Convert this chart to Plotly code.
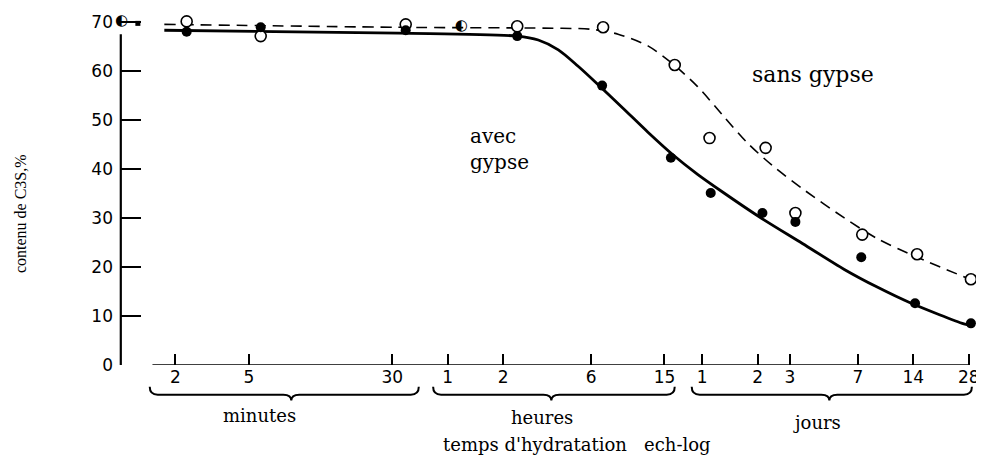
import math
import plotly.graph_objects as go

# ---------------- data (time in minutes, C3S content in %) ----------------
# measured points, "avec gypse" (filled circles)
avec_t = [2.3, 5.8, 35.5, 143, 413, 975, 1604, 3060, 4620, 10520, 20600, 41400]
avec_v = [68.0, 68.9, 68.3, 67.1, 57.0, 42.3, 35.1, 31.0, 29.2, 22.0, 12.6, 8.5]
# measured points, "sans gypse" (open circles)
sans_t = [2.3, 5.8, 35.5, 143, 418, 1023, 1580, 3185, 4620, 10650, 21130, 41400]
sans_v = [70.1, 67.1, 69.5, 69.1, 68.9, 61.2, 46.3, 44.3, 31.0, 26.6, 22.6, 17.5]
# points where both series coincide (half-filled circles)
both_t = [1.02, 71]
both_v = [70.2, 69.1]
# small extra filled mark near the origin
extra_t = [1.25]
extra_v = [69.7]

# fitted curves
avec_curve_t = [1.74, 32.5, 143, 186, 239, 305, 393, 536, 732, 1000, 1361, 1859, 2952, 5043, 8511, 12837, 19360, 37930, 41380]
avec_curve_v = [68.3, 67.7, 67.1, 66.3, 64.3, 61.0, 57.2, 52.4, 47.5, 42.9, 38.9, 35.3, 30.2, 24.8, 19.5, 15.9, 12.7, 8.4, 8.1]
sans_curve_t = [1.74, 32.5, 239, 360, 504, 732, 1000, 1361, 1859, 2537, 3464, 5161, 8511, 12837, 21120, 40870]
sans_curve_v = [69.5, 68.9, 68.7, 68.5, 67.5, 65.1, 61.4, 56.8, 51.0, 45.3, 40.7, 35.7, 30.0, 25.8, 22.0, 17.5]

# axis ticks
x_tickvals = [2, 5, 30, 60, 120, 360, 900, 1440, 2880, 4320, 10080, 20160, 40320]
x_ticktext = ["2", "5", "30", "1", "2", "6", "15", "1", "2", "3", "7", "14", "28"]
y_tickvals = [0, 10, 20, 30, 40, 50, 60, 70]

# unit groups under the axis: (label, start, tip, end) in minutes
groups = [("minutes", 1.45, 8.5, 41.8),
          ("heures", 50, 219, 1023),
          ("jours", 1265, 7060, 41900)]
group_label_t = [5.7, 195, 6080]

# ---------------- geometry ----------------
# the page body has an 8px margin, so the figure is drawn 8px in from the window edge
W, H = 976, 448
ML, MR, MT, MB = 112, 4, 5, 91
PW, PH = W - ML - MR, H - MT - MB
XR = [0, 4.65]
YR = [0, 71]
AXIS_Y = 365  # window pixel of the x axis


def px(t):
    return (math.log10(t) - XR[0]) / (XR[1] - XR[0])


def py_off(dy):
    # paper y for a pixel offset below the x axis
    return -dy / PH


def py_screen(sy):
    return (AXIS_Y - sy) / PH


def dxp(d):
    return d / PW


fig = go.Figure()

# curves
fig.add_trace(go.Scatter(x=sans_curve_t, y=sans_curve_v, mode="lines",
                         line=dict(color="black", width=1.6, dash="11px,7px",
                                   shape="spline", smoothing=0.8),
                         hoverinfo="skip"))
fig.add_trace(go.Scatter(x=avec_curve_t, y=avec_curve_v, mode="lines",
                         line=dict(color="black", width=2.8,
                                   shape="spline", smoothing=0.8),
                         hoverinfo="skip"))
# markers
fig.add_trace(go.Scatter(x=sans_t, y=sans_v, mode="markers", cliponaxis=False,
                         marker=dict(symbol="circle", size=11, color="white",
                                     line=dict(color="black", width=1.6))))
fig.add_trace(go.Scatter(x=avec_t, y=avec_v, mode="markers", cliponaxis=False,
                         marker=dict(symbol="circle", size=10, color="black",
                                     line=dict(color="black", width=0))))
fig.add_trace(go.Scatter(x=extra_t, y=extra_v, mode="markers", cliponaxis=False,
                         marker=dict(symbol="square", size=5, color="black")))
fig.add_trace(go.Scatter(x=both_t, y=both_v, mode="text", text=["◐"] * len(both_t),
                         cliponaxis=False, textposition="middle center",
                         textfont=dict(family="DejaVu Sans", size=15, color="black")))

shapes = []
# y axis line
shapes.append(dict(type="line", xref="paper", yref="y", x0=px(1.01), x1=px(1.01),
                   y0=0, y1=67.5, line=dict(color="black", width=2.2)))
# x axis line (starts a little right of the y axis)
shapes.append(dict(type="line", xref="paper", yref="y", x0=px(1.5), x1=px(40320),
                   y0=0, y1=0, line=dict(color="black", width=1.6)))
# braces
r = dxp(8)
for lab, a, m, b in groups:
    xa, xm, xb = px(a), px(m), px(b)
    y_end, y_bar, y_tip = py_off(22), py_off(30), py_off(36)
    path = (f"M {xa},{y_end} Q {xa},{y_bar} {xa + r},{y_bar} "
            f"L {xm - r},{y_bar} Q {xm},{y_bar} {xm},{y_tip} "
            f"Q {xm},{y_bar} {xm + r},{y_bar} L {xb - r},{y_bar} "
            f"Q {xb},{y_bar} {xb},{y_end}")
    shapes.append(dict(type="path", xref="paper", yref="paper", path=path,
                       line=dict(color="black", width=2)))

annotations = []
serif = "DejaVu Serif"
for (lab, a, m, b), t, dy in zip(groups, group_label_t, [51, 53, 58]):
    annotations.append(dict(xref="paper", yref="paper", x=px(t), y=py_off(dy),
                            text=lab, showarrow=False, xanchor="center", yanchor="middle",
                            font=dict(family=serif, size=18, color="black")))
annotations.append(dict(xref="paper", yref="paper", x=px(300), y=py_off(80),
                        text="temps d'hydratation   ech-log", showarrow=False,
                        xanchor="center", yanchor="middle",
                        font=dict(family=serif, size=18, color="black")))
annotations.append(dict(xref="paper", yref="paper", x=px(5780), y=py_screen(71),
                        text="sans gypse", showarrow=False, xanchor="center", yanchor="middle",
                        font=dict(family=serif, size=22, color="black")))
annotations.append(dict(xref="paper", yref="paper", x=px(77), y=py_screen(147),
                        text="avec<br>gypse", showarrow=False, xanchor="left", yanchor="middle",
                        align="left",
                        font=dict(family=serif, size=20, color="black")))
annotations.append(dict(xref="paper", yref="paper", x=-100 / PW, y=py_screen(212),
                        text="contenu de C3S,%", showarrow=False, textangle=-90,
                        xanchor="center", yanchor="middle",
                        font=dict(family="Liberation Serif", size=16, color="black")))

fig.update_layout(
    width=W, height=H,
    margin=dict(l=ML, r=MR, t=MT, b=MB),
    paper_bgcolor="white", plot_bgcolor="white",
    showlegend=False,
    shapes=shapes, annotations=annotations,
    xaxis=dict(type="log", range=XR, showgrid=False, zeroline=False, showline=False,
               tickmode="array", tickvals=x_tickvals, ticktext=x_ticktext,
               ticks="inside", ticklen=11, tickwidth=1.5, tickcolor="black",
               ticklabeloverflow="allow",
               tickfont=dict(family="DejaVu Sans", size=17, color="black")),
    yaxis=dict(range=YR, showgrid=False, zeroline=False, showline=False,
               tickmode="array", tickvals=y_tickvals,
               ticks="inside", ticklen=21, tickwidth=1.5, tickcolor="black",
               ticklabeloverflow="allow", ticklabelstandoff=6,
               tickfont=dict(family="DejaVu Sans", size=17, color="black")),
)

fig.write_html("out.html")
